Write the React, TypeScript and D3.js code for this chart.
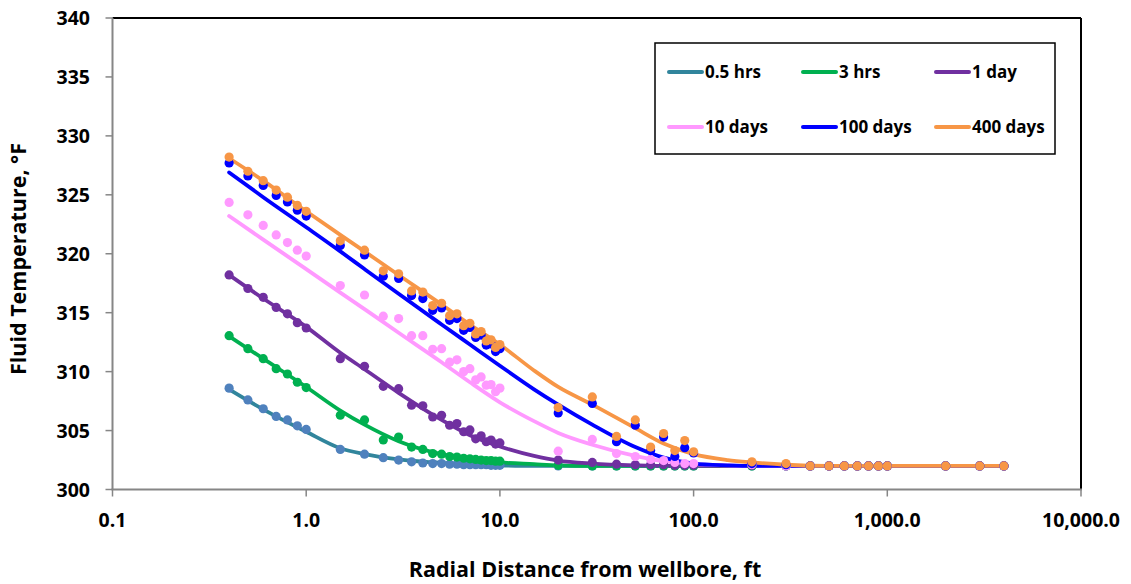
import React from "react";
import * as d3 from "d3";

// ---------- data ----------
const seriesNames = ["0.5 hrs", "3 hrs", "1 day", "10 days", "100 days", "400 days"];
const lineColors = ["#31859C", "#00B050", "#7030A0", "#FF99FF", "#0000FF", "#F79646"];
const markerColors = ["#4F81BD", "#00B050", "#7030A0", "#FF99FF", "#0000FF", "#F79646"];

const xTicks = [0.1, 1, 10, 100, 1000, 10000];
const xTickLabels = ["0.1", "1.0", "10.0", "100.0", "1,000.0", "10,000.0"];
const yTicks = [300, 305, 310, 315, 320, 325, 330, 335, 340];

// measured (marker) radial distances
const pointX = [0.4, 0.5, 0.6, 0.7, 0.8, 0.9, 1.0, 1.5, 2, 2.5, 3, 3.5, 4, 4.5, 5, 5.5, 6, 6.5, 7, 7.5, 8, 8.5, 9, 9.5, 10,
  20, 30, 40, 50, 60, 70, 80, 90, 100, 200, 300, 400, 500, 600, 700, 800, 900, 1000, 2000, 3000, 4000];

const pts05h = [308.6, 307.6, 306.85, 306.2, 305.9, 305.4, 305.1, 303.4, 303.0, 302.7, 302.5, 302.35, 302.25, 302.2, 302.2,
  302.15, 302.15, 302.1, 302.1, 302.1, 302.1, 302.1, 302.05, 302.05, 302.05,
  302.0, 302.0, 302.0, 302.0, 302.0, 302.0, 302.0, 302.0, 302.0, 302.0, 302.0, 302.0, 302.0, 302.0, 302.0, 302.0, 302.0, 302.0, 302.0, 302.0, 302.0];
const pts3h = [313.05, 311.95, 311.1, 310.25, 309.8, 309.1, 308.65, 306.3, 305.9, 304.2, 304.45, 303.6, 303.4, 303.05, 303.0,
  302.8, 302.75, 302.65, 302.6, 302.55, 302.5, 302.45, 302.45, 302.4, 302.4,
  302.05, 302.0, 302.0, 302.0, 302.0, 302.0, 302.0, 302.0, 302.0, 302.0, 302.0, 302.0, 302.0, 302.0, 302.0, 302.0, 302.0, 302.0, 302.0, 302.0, 302.0];
const pts1d = [318.2, 317.05, 316.3, 315.45, 314.9, 314.15, 313.7, 311.1, 310.45, 308.75, 308.55, 307.15, 307.1, 306.15, 306.3,
  305.45, 305.6, 304.9, 305.05, 304.3, 304.55, 304.05, 304.2, 303.85, 303.95,
  302.5, 302.3, 302.15, 302.1, 302.1, 302.1, 302.05, 302.05, 302.05, 302.05, 302.0, 302.0, 302.0, 302.0, 302.0, 302.0, 302.0, 302.0, 302.0, 302.0, 302.0];
const pts10d = [324.35, 323.3, 322.4, 321.6, 320.95, 320.3, 319.8, 317.3, 316.5, 314.7, 314.5, 313.05, 313.05, 311.9, 311.95,
  310.8, 311.0, 310.0, 310.25, 309.3, 309.55, 308.85, 308.9, 308.3, 308.6,
  303.25, 304.25, 303.05, 302.8, 302.55, 302.45, 302.3, 302.2, 302.2, 302.1, 302.0, 302.0, 302.0, 302.0, 302.0, 302.0, 302.0, 302.0, 302.0, 302.0, 302.0];
const pts100d = [327.7, 326.6, 325.8, 324.95, 324.4, 323.7, 323.2, 320.7, 319.9, 318.1, 317.9, 316.45, 316.2, 315.2, 315.4,
  314.35, 314.5, 313.5, 313.75, 312.9, 313.1, 312.25, 312.35, 311.7, 311.95,
  306.5, 307.3, 304.05, 305.45, 303.3, 304.45, 302.8, 303.55, 303.1, 302.2, 302.1, 302.0, 302.0, 302.0, 302.0, 302.0, 302.0, 302.0, 302.0, 302.0, 302.0];
const pts400d = [328.2, 327.0, 326.2, 325.4, 324.8, 324.1, 323.6, 321.1, 320.3, 318.55, 318.3, 316.85, 316.75, 315.6, 315.8,
  314.75, 314.9, 313.9, 314.1, 313.2, 313.4, 312.6, 312.7, 312.05, 312.3,
  306.95, 307.85, 304.5, 305.9, 303.6, 304.75, 303.3, 304.15, 303.2, 302.35, 302.2, 302.0, 302.0, 302.0, 302.0, 302.0, 302.0, 302.0, 302.0, 302.0, 302.0];

// model curves (read at these distances)
const lineX = [0.4, 0.6, 1, 1.5, 2, 3, 5, 7, 10, 15, 20, 30, 50, 70, 100, 150, 200, 300, 500, 1000, 4000];
const line05h = [308.5, 306.8, 304.9, 303.5, 303.0, 302.55, 302.25, 302.15, 302.05, 302.0, 302.0, 302.0, 302.0, 302.0, 302.0, 302.0, 302.0, 302.0, 302.0, 302.0, 302.0];
const line3h = [313.0, 311.1, 308.7, 306.7, 305.5, 304.1, 303.0, 302.6, 302.3, 302.15, 302.05, 302.0, 302.0, 302.0, 302.0, 302.0, 302.0, 302.0, 302.0, 302.0, 302.0];
const line1d = [318.2, 316.2, 313.8, 311.6, 310.2, 308.2, 305.9, 304.6, 303.65, 302.85, 302.45, 302.2, 302.05, 302.0, 302.0, 302.0, 302.0, 302.0, 302.0, 302.0, 302.0];
const line10d = [323.2, 321.2, 318.7, 316.7, 315.3, 313.3, 310.8, 309.1, 307.4, 305.8, 304.8, 303.8, 302.85, 302.4, 302.15, 302.05, 302.0, 302.0, 302.0, 302.0, 302.0];
const line100d = [326.9, 324.8, 322.25, 320.2, 318.7, 316.6, 314.0, 312.3, 310.5, 308.5, 307.2, 305.5, 303.6, 302.7, 302.2, 302.05, 302.0, 302.0, 302.0, 302.0, 302.0];
const line400d = [328.1, 326.2, 323.6, 321.6, 320.2, 318.2, 315.7, 314.0, 312.3, 310.1, 308.7, 307.2, 305.2, 303.9, 303.0, 302.5, 302.3, 302.1, 302.0, 302.0, 302.0];

const pointSeries = [pts05h, pts3h, pts1d, pts10d, pts100d, pts400d];
const lineSeries = [line05h, line3h, line1d, line10d, line100d, line400d];

// ---------- chart ----------
const W = 1131;
const H = 584;
const FONT = "'Open Sans', 'Noto Sans', sans-serif";

export default function App() {
  const left = 112.5, right = 1081, top = 18, bottom = 489.5;
  const x = d3.scaleLog().domain([0.1, 10000]).range([left, right]);
  const y = d3.scaleLinear().domain([300, 340]).range([bottom, top]);

  const lineGen = d3.line<[number, number]>()
    .x((d) => x(d[0]))
    .y((d) => y(d[1]))
    .curve(d3.curveMonotoneX);

  const legendCols = [669, 803, 936];
  const legendRows = [72, 127];

  return (
    <svg width={W} height={H} style={{ position: "absolute", left: 0, top: 0, background: "#fff" }}
      fontFamily={FONT} fontWeight="bold">
      <rect x={0} y={0} width={W} height={H} fill="#fff" />
      {/* plot frame */}
      <line x1={left} x2={right} y1={top} y2={top} stroke="#000" strokeWidth={2} />
      <line x1={right} x2={right} y1={top} y2={bottom} stroke="#000" strokeWidth={2} />

      {/* model lines */}
      {lineSeries.map((vals, i) => (
        <path key={"l" + i}
          d={lineGen(lineX.map((xv, j) => [xv, vals[j]] as [number, number])) || ""}
          fill="none" stroke={lineColors[i]} strokeWidth={3.8} strokeLinecap="round" strokeLinejoin="round" />
      ))}

      {/* markers */}
      {pointSeries.map((vals, i) => (
        <g key={"p" + i} fill={markerColors[i]}>
          {pointX.map((xv, j) => (
            <circle key={j} cx={x(xv)} cy={y(vals[j])} r={4.6} />
          ))}
        </g>
      ))}

      {/* axes */}
      <line x1={left} x2={left} y1={top} y2={bottom} stroke="#868686" strokeWidth={2} />
      <line x1={left - 1} x2={right + 1} y1={bottom} y2={bottom} stroke="#868686" strokeWidth={2} />
      {yTicks.map((t) => (
        <g key={"yt" + t}>
          <line x1={left - 7} x2={left} y1={y(t)} y2={y(t)} stroke="#868686" strokeWidth={1.5} />
          <text x={90} y={y(t)} dy="0.36em" textAnchor="end" fontSize={19.5} fill="#000">{t}</text>
        </g>
      ))}
      {xTicks.map((t, i) => (
        <g key={"xt" + t}>
          <line x1={x(t)} x2={x(t)} y1={bottom} y2={bottom + 7} stroke="#868686" strokeWidth={1.5} />
          <text x={x(t)} y={527} textAnchor="middle" fontSize={19.5} fill="#000">{xTickLabels[i]}</text>
        </g>
      ))}

      {/* axis titles */}
      <text x={585} y={577} textAnchor="middle" fontSize={21.5} fill="#000">Radial Distance from wellbore, ft</text>
      <text transform="translate(26,259) rotate(-90)" textAnchor="middle" fontSize={21.5} fill="#000">Fluid Temperature, °F</text>

      {/* legend */}
      <rect x={655} y={43} width={400} height={111} fill="#fff" stroke="#000" strokeWidth={1.5} />
      {seriesNames.map((name, i) => {
        const cx = legendCols[i % 3];
        const cy = legendRows[Math.floor(i / 3)];
        return (
          <g key={"lg" + i}>
            <line x1={cx} x2={cx + 33} y1={cy} y2={cy} stroke={lineColors[i]} strokeWidth={4} strokeLinecap="round" />
            <text x={cx + 36} y={cy} dy="0.36em" fontSize={17} fill="#000">{name}</text>
          </g>
        );
      })}
    </svg>
  );
}
